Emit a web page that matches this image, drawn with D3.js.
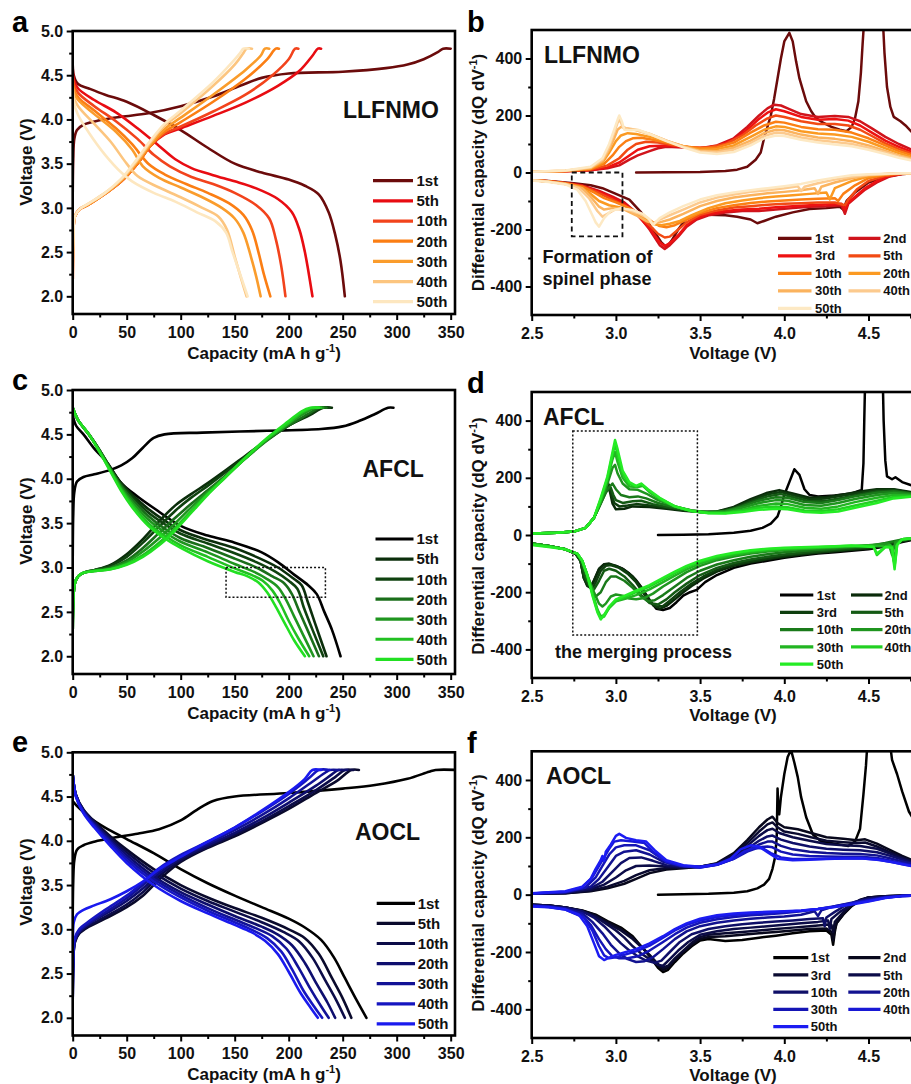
<!DOCTYPE html>
<html><head><meta charset="utf-8">
<script src="https://cdn.jsdelivr.net/npm/d3@7"></script>
<style>body{margin:0;background:#fff}svg{display:block}</style>
</head><body>
<script>
// ---------------- DATA ----------------
const cyclesLeft = ["1st","5th","10th","20th","30th","40th","50th"];
const cyclesRight = ["1st","2nd","3rd","5th","10th","20th","30th","40th","50th"];
const capTicks = [0,50,100,150,200,250,300,350];
const voltTicksLeft = [2.0,2.5,3.0,3.5,4.0,4.5,5.0];
const voltTicksRight = [2.5,3.0,3.5,4.0,4.5];
const dqTicks = [-400,-200,0,200,400];

const colorsA = ["#6b0b0b","#e80c12","#f2431c","#fb7e14","#fa9c2c","#fcc57f","#fde7c0"];
const colorsB = ["#6b0b0b","#d0141c","#ee1212","#f24a14","#fb7f14","#fb9a22","#fbb35e","#fcca8e","#fde9c4"];
const colorsC = ["#000000","#0b2e0b","#0f420f","#1a6e1a","#1f951f","#22c022","#22e022"];
const colorsD = ["#000000","#0a2a0a","#0e3e0e","#145a14","#1a7a1a","#1f951f","#22b522","#22d022","#25ec25"];
const colorsE = ["#000000","#0a0a2c","#0c0c48","#0e0e6e","#121296","#1616c0","#1a1aee"];
const colorsF = ["#000000","#08081c","#0a0a30","#0c0c48","#0f0f68","#121290","#1515b5","#1818d5","#1c1cf2"];

// Panel a: LLFNMO charge/discharge [capacity, voltage]
const chargeA = [
 [[0,3.1],[0.5,3.55],[1.5,3.78],[4,3.88],[10,3.94],[25,3.99],[45,4.03],[70,4.07],[100,4.15],[130,4.26],[155,4.38],[175,4.47],[200,4.52],[250,4.54],[290,4.58],[310,4.62],[325,4.68],[338,4.76],[343,4.8],[350,4.8]],
 [[0,2.0],[0.5,2.6],[2,2.9],[6,2.98],[15,3.04],[30,3.16],[45,3.3],[60,3.5],[72,3.7],[85,3.83],[100,3.9],[130,4.04],[160,4.19],[190,4.38],[210,4.55],[222,4.72],[227,4.8],[230,4.8]],
 [[0,2.0],[0.5,2.6],[2,2.9],[6,2.98],[15,3.04],[30,3.16],[45,3.3],[60,3.5],[72,3.7],[85,3.84],[100,3.92],[130,4.09],[160,4.28],[185,4.5],[200,4.68],[206,4.8],[209,4.8]],
 [[0,2.0],[0.5,2.6],[2,2.9],[6,2.98],[15,3.04],[30,3.16],[45,3.3],[60,3.5],[72,3.7],[85,3.86],[100,3.97],[130,4.2],[160,4.46],[180,4.68],[188,4.8],[191,4.8]],
 [[0,2.0],[0.5,2.6],[2,2.9],[6,2.98],[15,3.04],[30,3.16],[45,3.31],[60,3.52],[72,3.72],[85,3.89],[100,4.02],[130,4.28],[160,4.56],[174,4.72],[178,4.8],[182,4.8]],
 [[0,2.0],[0.5,2.6],[2,2.9],[6,2.98],[15,3.05],[30,3.17],[45,3.32],[60,3.54],[72,3.74],[85,3.93],[100,4.07],[130,4.38],[150,4.62],[158,4.75],[161,4.8],[166,4.8]],
 [[0,2.0],[0.5,2.6],[2,2.9],[6,2.98],[15,3.05],[30,3.17],[45,3.33],[60,3.56],[72,3.76],[85,3.95],[100,4.1],[130,4.42],[148,4.65],[155,4.75],[158,4.8],[163,4.8]]
];
const dischargeA = [
 [[0,4.72],[1,4.5],[5,4.4],[15,4.35],[30,4.28],[50,4.2],[75,4.05],[100,3.88],[125,3.68],[150,3.5],[175,3.4],[200,3.32],[215,3.25],[228,3.15],[237,2.95],[243,2.7],[248,2.4],[252,2.0]],
 [[0,4.62],[1,4.45],[5,4.35],[20,4.22],[40,4.08],[60,3.9],[80,3.7],[95,3.55],[110,3.45],[130,3.37],[150,3.3],[170,3.22],[190,3.1],[203,2.95],[210,2.75],[215,2.5],[218,2.3],[222,2.0]],
 [[0,4.58],[1,4.4],[5,4.3],[20,4.15],[40,3.98],[60,3.78],[75,3.6],[90,3.47],[110,3.35],[130,3.27],[150,3.17],[170,3.03],[182,2.88],[188,2.65],[193,2.35],[197,2.0]],
 [[0,4.55],[1,4.35],[5,4.25],[20,4.1],[40,3.9],[55,3.72],[70,3.5],[85,3.38],[105,3.27],[125,3.17],[145,3.05],[158,2.92],[166,2.75],[172,2.5],[177,2.25],[183,2.0]],
 [[0,4.52],[1,4.3],[5,4.22],[20,4.06],[40,3.86],[55,3.66],[65,3.47],[80,3.34],[100,3.23],[120,3.12],[138,3.0],[150,2.88],[158,2.72],[165,2.45],[170,2.22],[174,2.0]],
 [[0,4.5],[1,4.25],[5,4.15],[20,3.95],[35,3.75],[50,3.5],[60,3.36],[80,3.23],[100,3.12],[120,3.0],[135,2.9],[143,2.75],[150,2.45],[156,2.2],[161,2.0]],
 [[0,4.5],[1,4.2],[5,4.05],[15,3.85],[30,3.6],[45,3.4],[55,3.3],[75,3.17],[95,3.07],[115,2.95],[132,2.85],[142,2.72],[148,2.5],[155,2.25],[162,2.0]]
];

// Panel c: AFCL
const chargeC = [
 [[0,3.0],[0.5,3.6],[1.5,3.85],[4,3.97],[10,4.02],[20,4.05],[35,4.1],[45,4.15],[55,4.23],[65,4.35],[75,4.46],[85,4.5],[120,4.52],[180,4.54],[230,4.56],[250,4.59],[265,4.65],[280,4.73],[292,4.8],[297,4.8]],
 [[0,2.05],[0.5,2.6],[2,2.82],[5,2.9],[10,2.94],[20,2.97],[35,3.03],[50,3.15],[65,3.32],[80,3.52],[95,3.7],[110,3.83],[125,3.95],[140,4.08],[160,4.26],[180,4.44],[200,4.6],[220,4.72],[232,4.8],[240,4.8]],
 [[0,2.05],[0.5,2.6],[2,2.82],[5,2.9],[10,2.94],[20,2.97],[35,3.02],[50,3.12],[65,3.28],[80,3.46],[95,3.64],[110,3.79],[125,3.92],[140,4.06],[160,4.25],[180,4.44],[200,4.6],[220,4.73],[230,4.8],[238,4.8]],
 [[0,2.05],[0.5,2.6],[2,2.82],[5,2.9],[10,2.94],[20,2.97],[35,3.0],[50,3.08],[65,3.22],[80,3.39],[95,3.56],[110,3.72],[125,3.87],[140,4.02],[160,4.23],[180,4.43],[200,4.6],[218,4.73],[228,4.8],[235,4.8]],
 [[0,2.05],[0.5,2.6],[2,2.82],[5,2.9],[10,2.94],[20,2.96],[35,2.99],[50,3.06],[65,3.18],[80,3.33],[95,3.5],[110,3.68],[125,3.85],[140,4.01],[160,4.23],[180,4.44],[200,4.62],[215,4.74],[225,4.8],[232,4.8]],
 [[0,2.05],[0.5,2.6],[2,2.82],[5,2.9],[10,2.94],[20,2.96],[35,2.98],[50,3.04],[65,3.14],[80,3.28],[95,3.45],[110,3.64],[125,3.83],[140,4.0],[160,4.23],[180,4.45],[200,4.63],[213,4.75],[222,4.8],[230,4.8]],
 [[0,2.05],[0.5,2.6],[2,2.82],[5,2.9],[10,2.94],[20,2.96],[35,2.98],[50,3.03],[65,3.12],[80,3.25],[95,3.42],[110,3.62],[125,3.82],[140,4.0],[160,4.24],[180,4.46],[200,4.65],[212,4.76],[220,4.8],[228,4.8]]
];
const dischargeC = [
 [[0,4.72],[3,4.6],[10,4.5],[20,4.34],[32,4.18],[45,3.95],[60,3.8],[75,3.67],[100,3.47],[125,3.36],[150,3.28],[175,3.17],[190,3.06],[205,2.92],[218,2.8],[226,2.7],[233,2.5],[240,2.3],[248,2.0]],
 [[0,4.8],[5,4.66],[15,4.5],[25,4.32],[35,4.12],[45,3.95],[55,3.82],[70,3.66],[85,3.53],[100,3.42],[125,3.31],[150,3.22],[170,3.12],[190,3.0],[205,2.87],[212,2.8],[218,2.6],[225,2.35],[235,2.0]],
 [[0,4.8],[5,4.66],[15,4.5],[25,4.32],[35,4.12],[45,3.94],[55,3.8],[70,3.62],[85,3.49],[100,3.38],[125,3.27],[150,3.16],[170,3.06],[188,2.95],[200,2.85],[208,2.76],[214,2.55],[222,2.3],[232,2.0]],
 [[0,4.8],[5,4.66],[15,4.5],[25,4.32],[35,4.11],[45,3.92],[55,3.77],[70,3.58],[85,3.44],[100,3.33],[125,3.22],[150,3.1],[170,3.0],[185,2.9],[196,2.82],[203,2.7],[210,2.5],[218,2.28],[228,2.0]],
 [[0,4.8],[5,4.66],[15,4.5],[25,4.31],[35,4.1],[45,3.9],[55,3.74],[70,3.54],[85,3.4],[100,3.29],[125,3.17],[150,3.04],[168,2.95],[180,2.87],[190,2.78],[197,2.65],[205,2.45],[213,2.25],[223,2.0]],
 [[0,4.8],[5,4.66],[15,4.5],[25,4.3],[35,4.09],[45,3.88],[55,3.71],[70,3.5],[85,3.36],[100,3.25],[125,3.12],[150,2.99],[165,2.92],[176,2.85],[185,2.74],[192,2.6],[200,2.4],[209,2.2],[219,2.0]],
 [[0,4.8],[5,4.66],[15,4.5],[25,4.3],[35,4.08],[45,3.86],[55,3.68],[70,3.47],[85,3.33],[100,3.22],[125,3.07],[150,2.95],[162,2.9],[172,2.83],[180,2.72],[188,2.56],[196,2.38],[205,2.18],[215,2.0]]
];

// Panel e: AOCL
const chargeE = [
 [[0,3.1],[0.5,3.55],[1.5,3.78],[4,3.9],[10,3.95],[20,3.99],[40,4.04],[60,4.08],[80,4.13],[100,4.23],[115,4.35],[130,4.45],[150,4.5],[200,4.54],[250,4.59],[280,4.63],[310,4.7],[330,4.78],[336,4.8],[357,4.8]],
 [[0,2.0],[0.5,2.6],[2,2.85],[6,2.95],[15,3.03],[30,3.12],[50,3.25],[65,3.38],[80,3.56],[100,3.76],[125,3.92],[150,4.05],[175,4.2],[200,4.36],[225,4.54],[245,4.68],[258,4.8],[265,4.8]],
 [[0,2.0],[0.5,2.6],[2,2.86],[6,2.96],[15,3.04],[30,3.14],[50,3.28],[65,3.42],[80,3.6],[100,3.78],[125,3.93],[150,4.07],[175,4.22],[200,4.39],[225,4.57],[243,4.72],[252,4.8],[260,4.8]],
 [[0,2.0],[0.5,2.6],[2,2.87],[6,2.97],[15,3.06],[30,3.17],[50,3.32],[65,3.46],[80,3.63],[100,3.8],[125,3.95],[150,4.09],[175,4.25],[200,4.43],[225,4.62],[240,4.75],[246,4.8],[254,4.8]],
 [[0,2.0],[0.5,2.6],[2,2.88],[6,2.98],[15,3.07],[30,3.19],[50,3.35],[65,3.5],[80,3.66],[100,3.82],[125,3.97],[150,4.12],[175,4.29],[200,4.48],[220,4.65],[235,4.78],[238,4.8],[247,4.8]],
 [[0,2.0],[0.5,2.6],[2,2.9],[6,3.0],[15,3.09],[30,3.22],[50,3.38],[65,3.53],[80,3.69],[100,3.84],[125,3.99],[150,4.15],[175,4.33],[200,4.53],[218,4.7],[228,4.8],[238,4.8]],
 [[0,2.05],[0.3,2.9],[1,3.08],[4,3.17],[10,3.22],[20,3.27],[35,3.34],[50,3.43],[65,3.54],[80,3.68],[100,3.82],[125,3.99],[150,4.15],[175,4.34],[200,4.55],[215,4.7],[222,4.8],[230,4.8]]
];
const dischargeE = [
 [[0,4.45],[5,4.38],[15,4.27],[30,4.15],[50,4.02],[75,3.86],[100,3.68],[125,3.52],[150,3.38],[175,3.25],[200,3.12],[215,3.02],[230,2.88],[242,2.68],[252,2.45],[262,2.22],[272,2.0]],
 [[0,4.75],[3,4.52],[10,4.35],[20,4.22],[35,4.05],[50,3.9],[75,3.68],[100,3.5],[125,3.36],[150,3.24],[175,3.13],[200,3.0],[215,2.9],[228,2.72],[240,2.45],[250,2.22],[258,2.0]],
 [[0,4.75],[3,4.52],[10,4.35],[20,4.21],[35,4.03],[50,3.87],[75,3.64],[100,3.46],[125,3.32],[150,3.2],[175,3.08],[195,2.97],[210,2.86],[222,2.68],[234,2.42],[244,2.2],[252,2.0]],
 [[0,4.75],[3,4.52],[10,4.34],[20,4.2],[35,4.01],[50,3.84],[75,3.6],[100,3.42],[125,3.28],[150,3.15],[175,3.03],[190,2.94],[203,2.82],[215,2.62],[226,2.38],[236,2.17],[243,2.0]],
 [[0,4.75],[3,4.51],[10,4.33],[20,4.18],[35,3.99],[50,3.81],[75,3.57],[100,3.39],[125,3.24],[150,3.11],[170,3.01],[185,2.92],[198,2.78],[209,2.57],[220,2.33],[230,2.13],[237,2.0]],
 [[0,4.75],[3,4.5],[10,4.32],[20,4.17],[35,3.97],[50,3.78],[75,3.54],[100,3.36],[125,3.21],[150,3.08],[165,3.0],[180,2.9],[193,2.75],[203,2.55],[214,2.3],[224,2.12],[231,2.0]],
 [[0,4.75],[3,4.5],[10,4.31],[20,4.15],[35,3.94],[50,3.75],[75,3.5],[100,3.32],[125,3.18],[150,3.05],[165,2.97],[178,2.87],[190,2.72],[200,2.52],[211,2.28],[220,2.12],[227,2.0]]
];

// Panel b: LLFNMO dQ/dV [voltage, dQ/dV]
const posB = [
 [[3.12,0],[3.3,1],[3.5,2],[3.65,5],[3.72,10],[3.78,20],[3.83,45],[3.86,70],[3.88,120],[3.9,160],[3.92,200],[3.94,260],[3.96,330],[3.98,400],[4.0,460],[4.03,490],[4.05,460],[4.07,390],[4.09,330],[4.11,290],[4.13,250],[4.16,215],[4.19,190],[4.23,175],[4.28,160],[4.33,150],[4.37,145],[4.4,160],[4.42,190],[4.44,250],[4.455,350],[4.465,450],[4.475,540],[4.585,540],[4.595,420],[4.61,300],[4.63,230],[4.65,195],[4.69,180],[4.72,165],[4.76,140],[4.8,110]],
 [[2.5,3],[2.7,4],[2.85,8],[2.95,15],[3.02,25],[3.08,45],[3.13,60],[3.2,75],[3.25,85],[3.3,90],[3.4,88],[3.5,85],[3.6,95],[3.7,120],[3.78,160],[3.85,200],[3.9,225],[3.94,238],[3.98,235],[4.02,225],[4.1,205],[4.2,195],[4.3,198],[4.38,195],[4.45,180],[4.52,155],[4.6,125],[4.68,100],[4.75,82],[4.8,70]],
 [[2.5,3],[2.7,4],[2.85,8],[2.95,18],[3.02,35],[3.08,60],[3.13,80],[3.2,92],[3.3,95],[3.4,90],[3.5,85],[3.6,92],[3.7,115],[3.78,150],[3.85,188],[3.9,210],[3.95,222],[4.0,215],[4.1,195],[4.2,185],[4.3,188],[4.38,182],[4.45,165],[4.52,140],[4.6,112],[4.68,90],[4.75,74],[4.8,62]],
 [[2.5,3],[2.7,5],[2.85,10],[2.95,25],[3.02,50],[3.07,80],[3.12,100],[3.18,108],[3.25,105],[3.35,95],[3.45,88],[3.55,88],[3.65,100],[3.75,130],[3.83,165],[3.9,190],[3.95,200],[4.0,195],[4.1,180],[4.2,170],[4.3,170],[4.38,165],[4.45,150],[4.52,128],[4.6,102],[4.68,82],[4.75,68],[4.8,58]],
 [[2.5,3],[2.7,5],[2.85,12],[2.93,30],[2.98,60],[3.02,90],[3.06,110],[3.1,120],[3.15,122],[3.22,115],[3.3,105],[3.4,92],[3.5,85],[3.6,88],[3.7,105],[3.8,140],[3.88,165],[3.95,178],[4.0,175],[4.1,160],[4.2,152],[4.3,150],[4.4,140],[4.5,120],[4.6,95],[4.68,75],[4.75,62],[4.8,52]],
 [[2.5,3],[2.7,5],[2.85,14],[2.92,35],[2.96,70],[3.0,110],[3.03,130],[3.07,138],[3.12,135],[3.2,125],[3.3,110],[3.4,92],[3.5,80],[3.6,82],[3.7,95],[3.8,125],[3.88,150],[3.95,162],[4.0,160],[4.1,145],[4.2,137],[4.3,133],[4.4,125],[4.5,108],[4.6,85],[4.68,68],[4.75,55],[4.8,47]],
 [[2.5,3],[2.7,6],[2.85,16],[2.92,40],[2.96,80],[2.99,120],[3.01,150],[3.03,160],[3.06,155],[3.1,152],[3.2,135],[3.3,112],[3.4,92],[3.5,76],[3.6,75],[3.7,87],[3.8,112],[3.88,138],[3.95,150],[4.0,148],[4.1,133],[4.2,123],[4.3,118],[4.4,110],[4.5,95],[4.6,76],[4.68,60],[4.75,50],[4.8,43]],
 [[2.5,3],[2.7,6],[2.85,18],[2.92,45],[2.96,90],[2.99,140],[3.01,175],[3.025,185],[3.04,160],[3.07,152],[3.12,150],[3.2,135],[3.3,112],[3.4,90],[3.5,74],[3.6,70],[3.7,80],[3.8,103],[3.88,128],[3.95,140],[4.0,138],[4.1,123],[4.2,113],[4.3,107],[4.4,100],[4.5,87],[4.6,70],[4.68,56],[4.75,46],[4.8,40]],
 [[2.5,3],[2.7,7],[2.85,20],[2.92,50],[2.96,100],[2.99,150],[3.01,185],[3.02,200],[3.035,180],[3.05,150],[3.08,148],[3.13,150],[3.2,135],[3.3,110],[3.4,88],[3.5,70],[3.6,65],[3.7,72],[3.8,95],[3.88,120],[3.95,130],[4.0,128],[4.1,115],[4.2,105],[4.3,98],[4.4,92],[4.5,80],[4.6,65],[4.68,52],[4.75,43],[4.8,37]]
];
const negB = [
 [[4.8,-2],[4.7,-5],[4.6,-15],[4.5,-35],[4.42,-70],[4.37,-100],[4.35,-130],[4.33,-120],[4.25,-125],[4.15,-128],[4.05,-140],[3.95,-155],[3.88,-170],[3.84,-178],[3.8,-165],[3.72,-155],[3.65,-150],[3.55,-148],[3.48,-148],[3.42,-160],[3.37,-200],[3.33,-240],[3.3,-262],[3.27,-245],[3.22,-200],[3.15,-140],[3.08,-95],[3.0,-75],[2.92,-55],[2.85,-45],[2.75,-38],[2.6,-30],[2.5,-27]],
 [[4.8,-2],[4.7,-5],[4.62,-15],[4.55,-35],[4.48,-60],[4.42,-90],[4.38,-110],[4.36,-145],[4.34,-115],[4.25,-118],[4.15,-120],[4.05,-125],[3.95,-130],[3.85,-135],[3.75,-135],[3.65,-140],[3.55,-150],[3.48,-165],[3.42,-190],[3.37,-225],[3.32,-255],[3.29,-268],[3.26,-255],[3.2,-200],[3.12,-140],[3.05,-105],[2.98,-85],[2.9,-65],[2.8,-45],[2.7,-37],[2.6,-31],[2.5,-27]],
 [[4.8,-2],[4.7,-4],[4.62,-12],[4.55,-30],[4.48,-55],[4.42,-85],[4.38,-105],[4.36,-130],[4.34,-110],[4.25,-112],[4.15,-115],[4.05,-118],[3.95,-122],[3.85,-127],[3.75,-130],[3.65,-135],[3.55,-145],[3.48,-160],[3.42,-185],[3.37,-220],[3.32,-248],[3.29,-258],[3.26,-245],[3.2,-195],[3.12,-145],[3.05,-110],[2.98,-88],[2.9,-68],[2.8,-47],[2.7,-38],[2.6,-31],[2.5,-27]],
 [[4.8,-2],[4.7,-4],[4.6,-12],[4.5,-30],[4.43,-60],[4.38,-95],[4.36,-115],[4.3,-105],[4.2,-105],[4.1,-108],[4.0,-110],[3.9,-113],[3.8,-118],[3.7,-123],[3.6,-133],[3.5,-148],[3.42,-175],[3.36,-205],[3.32,-225],[3.29,-228],[3.25,-215],[3.2,-185],[3.12,-145],[3.05,-115],[2.98,-95],[2.9,-72],[2.8,-48],[2.7,-38],[2.6,-31],[2.5,-27]],
 [[4.8,-2],[4.7,-3],[4.6,-8],[4.5,-20],[4.42,-45],[4.35,-75],[4.32,-100],[4.3,-90],[4.2,-92],[4.1,-95],[4.0,-98],[3.9,-102],[3.8,-107],[3.7,-115],[3.6,-125],[3.5,-142],[3.42,-165],[3.35,-185],[3.3,-192],[3.26,-188],[3.22,-175],[3.16,-150],[3.08,-125],[3.0,-105],[2.93,-90],[2.87,-70],[2.8,-50],[2.7,-38],[2.6,-31],[2.5,-27]],
 [[4.8,-2],[4.7,-3],[4.6,-6],[4.5,-14],[4.4,-30],[4.3,-55],[4.27,-95],[4.25,-70],[4.15,-75],[4.05,-80],[3.95,-84],[3.85,-90],[3.75,-98],[3.65,-108],[3.55,-125],[3.45,-150],[3.38,-170],[3.32,-180],[3.27,-185],[3.23,-182],[3.18,-165],[3.1,-140],[3.02,-122],[2.96,-115],[2.9,-100],[2.84,-70],[2.78,-50],[2.7,-40],[2.6,-32],[2.5,-27]],
 [[4.8,-2],[4.7,-3],[4.6,-5],[4.5,-10],[4.4,-20],[4.3,-35],[4.22,-50],[4.2,-75],[4.18,-55],[4.1,-62],[4.0,-68],[3.9,-73],[3.8,-80],[3.7,-88],[3.6,-100],[3.5,-118],[3.4,-145],[3.32,-165],[3.26,-175],[3.22,-178],[3.18,-170],[3.12,-150],[3.05,-130],[2.98,-125],[2.93,-130],[2.9,-120],[2.85,-85],[2.8,-55],[2.7,-40],[2.6,-32],[2.5,-27]],
 [[4.8,-2],[4.7,-3],[4.6,-5],[4.5,-8],[4.4,-15],[4.3,-25],[4.2,-38],[4.12,-50],[4.1,-65],[4.08,-48],[4.0,-55],[3.9,-62],[3.8,-68],[3.7,-77],[3.6,-88],[3.5,-105],[3.4,-130],[3.32,-150],[3.26,-165],[3.22,-180],[3.19,-160],[3.14,-145],[3.07,-130],[3.0,-128],[2.95,-145],[2.92,-155],[2.89,-135],[2.84,-90],[2.78,-55],[2.7,-40],[2.6,-32],[2.5,-27]],
 [[4.8,-2],[4.7,-3],[4.6,-4],[4.5,-6],[4.4,-10],[4.3,-18],[4.2,-28],[4.1,-40],[4.0,-48],[3.9,-55],[3.8,-62],[3.7,-70],[3.6,-80],[3.5,-95],[3.4,-118],[3.32,-140],[3.26,-160],[3.22,-185],[3.2,-165],[3.16,-145],[3.1,-132],[3.03,-125],[2.97,-135],[2.93,-160],[2.9,-190],[2.88,-175],[2.86,-150],[2.82,-100],[2.77,-60],[2.7,-42],[2.6,-33],[2.5,-28]]
];

// Panel d: AFCL dQ/dV
const posD = [
 [[3.25,0],[3.4,1],[3.55,3],[3.7,8],[3.8,15],[3.87,25],[3.92,40],[3.96,65],[3.98,100],[4.0,140],[4.03,185],[4.06,230],[4.09,210],[4.12,160],[4.15,140],[4.2,135],[4.3,138],[4.4,145],[4.46,158],[4.47,250],[4.475,400],[4.48,540],[4.585,540],[4.59,400],[4.6,260],[4.61,205],[4.64,195],[4.66,202],[4.7,185],[4.75,175],[4.8,165]],
 [[2.5,5],[2.65,8],[2.75,12],[2.82,25],[2.87,60],[2.91,120],[2.94,170],[2.95,190],[2.965,150],[2.98,110],[3.0,90],[3.05,92],[3.1,100],[3.2,98],[3.3,92],[3.4,85],[3.5,80],[3.6,82],[3.7,98],[3.8,125],[3.9,148],[3.97,157],[4.05,145],[4.15,130],[4.25,133],[4.35,142],[4.45,152],[4.55,160],[4.65,160],[4.75,150],[4.8,145]],
 [[2.5,5],[2.65,8],[2.75,12],[2.82,25],[2.87,60],[2.91,115],[2.94,160],[2.96,175],[2.975,140],[2.99,112],[3.02,100],[3.07,103],[3.12,108],[3.2,103],[3.3,95],[3.4,87],[3.5,80],[3.6,81],[3.7,95],[3.8,120],[3.9,142],[3.98,150],[4.05,140],[4.15,125],[4.25,128],[4.35,138],[4.45,148],[4.55,157],[4.65,158],[4.75,148],[4.8,143]],
 [[2.5,5],[2.65,8],[2.75,12],[2.82,25],[2.87,60],[2.91,110],[2.94,150],[2.97,165],[2.985,140],[3.0,122],[3.04,112],[3.1,118],[3.15,120],[3.22,108],[3.3,98],[3.4,88],[3.5,80],[3.6,80],[3.7,92],[3.8,115],[3.9,135],[3.98,143],[4.05,133],[4.15,118],[4.25,120],[4.35,130],[4.45,142],[4.55,152],[4.65,155],[4.75,146],[4.8,141]],
 [[2.5,5],[2.65,8],[2.75,12],[2.82,25],[2.87,60],[2.91,110],[2.95,160],[2.98,180],[3.0,160],[3.03,140],[3.08,132],[3.13,135],[3.18,128],[3.25,112],[3.35,97],[3.45,86],[3.55,80],[3.65,84],[3.75,100],[3.85,120],[3.95,132],[4.02,130],[4.12,115],[4.22,112],[4.32,122],[4.42,135],[4.55,148],[4.65,152],[4.75,145],[4.8,140]],
 [[2.5,5],[2.65,8],[2.75,12],[2.82,25],[2.87,60],[2.91,115],[2.95,180],[2.98,235],[2.995,245],[3.01,215],[3.04,180],[3.08,160],[3.13,158],[3.18,145],[3.25,122],[3.35,100],[3.45,86],[3.55,79],[3.65,82],[3.75,95],[3.85,112],[3.95,122],[4.02,120],[4.12,105],[4.22,102],[4.32,112],[4.42,126],[4.55,140],[4.65,147],[4.75,142],[4.8,138]],
 [[2.5,5],[2.65,8],[2.75,12],[2.82,25],[2.87,60],[2.91,120],[2.95,195],[2.98,265],[2.995,290],[3.01,255],[3.04,200],[3.08,170],[3.13,168],[3.16,172],[3.2,150],[3.27,122],[3.35,100],[3.45,85],[3.55,78],[3.65,79],[3.75,88],[3.85,102],[3.95,110],[4.02,108],[4.12,95],[4.22,92],[4.32,100],[4.42,115],[4.55,130],[4.65,140],[4.75,138],[4.8,135]],
 [[2.5,5],[2.65,8],[2.75,12],[2.82,25],[2.87,60],[2.91,125],[2.95,200],[2.98,280],[2.995,320],[3.01,280],[3.04,215],[3.08,178],[3.12,170],[3.15,178],[3.19,158],[3.26,128],[3.35,100],[3.45,84],[3.55,77],[3.65,77],[3.75,84],[3.85,95],[3.95,100],[4.02,97],[4.12,86],[4.22,84],[4.32,90],[4.42,103],[4.55,120],[4.65,133],[4.75,135],[4.8,133]],
 [[2.5,5],[2.65,8],[2.75,12],[2.82,25],[2.87,60],[2.91,130],[2.95,205],[2.98,290],[2.995,332],[3.01,300],[3.04,225],[3.08,185],[3.12,172],[3.15,180],[3.19,160],[3.26,130],[3.35,100],[3.45,84],[3.55,76],[3.65,75],[3.75,80],[3.85,88],[3.95,92],[4.02,90],[4.12,80],[4.22,78],[4.32,82],[4.42,95],[4.55,112],[4.65,128],[4.75,134],[4.8,132]]
];
const negD = [
 [[4.8,-12],[4.7,-25],[4.6,-40],[4.5,-50],[4.4,-55],[4.3,-60],[4.2,-65],[4.1,-72],[4.0,-80],[3.9,-90],[3.8,-100],[3.7,-115],[3.6,-140],[3.53,-165],[3.48,-192],[3.44,-200],[3.4,-212],[3.36,-235],[3.32,-255],[3.28,-262],[3.24,-258],[3.2,-228],[3.16,-190],[3.12,-158],[3.08,-135],[3.04,-118],[3.0,-108],[2.96,-103],[2.93,-103],[2.9,-120],[2.87,-160],[2.85,-182],[2.83,-175],[2.81,-150],[2.79,-90],[2.76,-65],[2.7,-50],[2.6,-38],[2.5,-30]],
 [[4.8,-10],[4.7,-22],[4.6,-38],[4.5,-47],[4.4,-52],[4.3,-57],[4.2,-62],[4.1,-68],[4.0,-76],[3.9,-85],[3.8,-95],[3.7,-108],[3.6,-128],[3.52,-152],[3.45,-178],[3.4,-200],[3.35,-225],[3.3,-248],[3.26,-258],[3.22,-245],[3.18,-210],[3.14,-175],[3.1,-145],[3.05,-122],[3.0,-108],[2.96,-100],[2.93,-102],[2.9,-118],[2.87,-158],[2.85,-185],[2.83,-178],[2.81,-150],[2.79,-90],[2.76,-65],[2.7,-50],[2.6,-38],[2.5,-30]],
 [[4.8,-10],[4.7,-20],[4.6,-35],[4.5,-45],[4.4,-50],[4.3,-55],[4.2,-60],[4.1,-66],[4.0,-73],[3.9,-82],[3.8,-92],[3.7,-104],[3.6,-122],[3.52,-145],[3.45,-170],[3.38,-200],[3.32,-230],[3.28,-248],[3.24,-250],[3.2,-235],[3.16,-200],[3.12,-165],[3.07,-135],[3.02,-115],[2.97,-105],[2.94,-108],[2.91,-125],[2.88,-165],[2.86,-188],[2.84,-180],[2.81,-150],[2.79,-90],[2.76,-65],[2.7,-50],[2.6,-38],[2.5,-30]],
 [[4.8,-10],[4.7,-18],[4.6,-32],[4.5,-42],[4.4,-47],[4.3,-52],[4.2,-57],[4.1,-62],[4.0,-68],[3.9,-76],[3.8,-86],[3.7,-98],[3.6,-115],[3.5,-140],[3.42,-170],[3.35,-200],[3.3,-225],[3.25,-243],[3.2,-238],[3.15,-210],[3.1,-175],[3.05,-145],[3.0,-125],[2.96,-118],[2.93,-125],[2.9,-160],[2.87,-190],[2.85,-185],[2.82,-150],[2.79,-90],[2.76,-65],[2.7,-50],[2.6,-38],[2.5,-30]],
 [[4.8,-10],[4.7,-16],[4.6,-28],[4.5,-38],[4.4,-43],[4.3,-48],[4.2,-52],[4.1,-56],[4.0,-60],[3.9,-67],[3.8,-76],[3.7,-88],[3.6,-103],[3.5,-125],[3.42,-150],[3.35,-180],[3.28,-210],[3.23,-228],[3.19,-232],[3.15,-215],[3.1,-185],[3.05,-160],[3.0,-145],[2.97,-145],[2.94,-165],[2.91,-200],[2.88,-215],[2.86,-200],[2.83,-150],[2.8,-95],[2.77,-65],[2.7,-50],[2.6,-38],[2.5,-30]],
 [[4.8,-10],[4.7,-15],[4.66,-25],[4.64,-70],[4.62,-30],[4.5,-36],[4.4,-40],[4.3,-44],[4.2,-47],[4.1,-50],[4.0,-53],[3.9,-58],[3.8,-65],[3.7,-75],[3.6,-88],[3.5,-108],[3.42,-130],[3.35,-155],[3.28,-180],[3.22,-205],[3.17,-220],[3.12,-225],[3.08,-222],[3.04,-212],[3.0,-208],[2.97,-215],[2.94,-240],[2.92,-250],[2.9,-240],[2.87,-200],[2.83,-140],[2.8,-90],[2.77,-65],[2.7,-50],[2.6,-38],[2.5,-30]],
 [[4.8,-10],[4.7,-15],[4.67,-30],[4.65,-90],[4.63,-35],[4.6,-40],[4.5,-36],[4.4,-39],[4.3,-42],[4.2,-45],[4.1,-47],[4.0,-50],[3.9,-54],[3.8,-60],[3.7,-70],[3.6,-82],[3.5,-100],[3.42,-120],[3.35,-142],[3.28,-165],[3.2,-190],[3.12,-210],[3.06,-222],[3.0,-232],[2.96,-255],[2.93,-280],[2.91,-285],[2.89,-260],[2.86,-200],[2.83,-140],[2.8,-90],[2.77,-65],[2.7,-50],[2.6,-38],[2.5,-30]],
 [[4.8,-10],[4.7,-15],[4.67,-35],[4.655,-110],[4.64,-40],[4.6,-42],[4.55,-70],[4.53,-40],[4.4,-38],[4.3,-40],[4.2,-43],[4.1,-45],[4.0,-47],[3.9,-50],[3.8,-56],[3.7,-65],[3.6,-77],[3.5,-94],[3.42,-112],[3.35,-133],[3.28,-155],[3.2,-180],[3.12,-200],[3.06,-215],[3.0,-230],[2.96,-255],[2.93,-285],[2.91,-290],[2.89,-265],[2.86,-205],[2.83,-140],[2.8,-90],[2.77,-65],[2.7,-50],[2.6,-40],[2.5,-33]],
 [[4.8,-10],[4.7,-15],[4.67,-35],[4.655,-120],[4.64,-45],[4.6,-42],[4.55,-65],[4.53,-42],[4.4,-37],[4.3,-39],[4.2,-41],[4.1,-43],[4.0,-45],[3.9,-48],[3.8,-53],[3.7,-62],[3.6,-73],[3.5,-90],[3.42,-108],[3.35,-128],[3.28,-150],[3.2,-175],[3.12,-195],[3.06,-210],[3.0,-225],[2.96,-250],[2.93,-280],[2.91,-295],[2.89,-270],[2.86,-210],[2.83,-140],[2.8,-90],[2.77,-65],[2.7,-50],[2.6,-42],[2.5,-35]]
];

// Panel f: AOCL dQ/dV
const posF = [
 [[3.25,0],[3.4,1],[3.55,3],[3.7,7],[3.78,12],[3.84,22],[3.88,35],[3.91,55],[3.93,90],[3.945,130],[3.955,200],[3.96,370],[3.965,300],[3.97,280],[3.98,340],[4.0,420],[4.02,480],[4.04,505],[4.06,460],[4.08,410],[4.1,340],[4.13,270],[4.17,210],[4.22,185],[4.3,178],[4.38,170],[4.42,185],[4.45,230],[4.47,350],[4.485,450],[4.495,540],[4.625,540],[4.64,470],[4.67,420],[4.7,360],[4.74,290],[4.76,270],[4.8,240]],
 [[2.5,3],[2.7,5],[2.85,12],[2.95,22],[3.05,38],[3.12,55],[3.2,75],[3.3,88],[3.4,92],[3.5,97],[3.6,110],[3.7,145],[3.78,190],[3.85,235],[3.9,262],[3.93,272],[3.96,250],[4.0,235],[4.08,228],[4.16,215],[4.25,200],[4.35,195],[4.43,190],[4.48,193],[4.55,178],[4.62,158],[4.7,135],[4.78,115],[4.8,110]],
 [[2.5,3],[2.7,5],[2.85,14],[2.95,28],[3.05,48],[3.12,68],[3.2,85],[3.3,93],[3.4,95],[3.5,97],[3.6,108],[3.7,140],[3.78,180],[3.85,220],[3.9,245],[3.93,252],[3.96,235],[4.0,220],[4.08,212],[4.16,200],[4.25,188],[4.35,183],[4.43,180],[4.48,182],[4.55,168],[4.62,150],[4.7,130],[4.78,112],[4.8,108]],
 [[2.5,3],[2.7,6],[2.85,18],[2.93,35],[3.0,60],[3.06,85],[3.12,100],[3.2,102],[3.3,98],[3.4,95],[3.5,97],[3.6,107],[3.7,135],[3.78,170],[3.85,205],[3.9,225],[3.93,230],[3.97,215],[4.05,200],[4.15,188],[4.25,177],[4.35,172],[4.45,170],[4.55,160],[4.62,145],[4.7,127],[4.78,110],[4.8,106]],
 [[2.5,3],[2.7,7],[2.85,22],[2.92,45],[2.98,80],[3.03,110],[3.08,128],[3.15,130],[3.22,118],[3.3,103],[3.4,97],[3.5,97],[3.6,106],[3.7,130],[3.78,160],[3.85,188],[3.9,203],[3.93,206],[3.98,192],[4.05,180],[4.15,168],[4.25,160],[4.35,157],[4.45,155],[4.55,148],[4.62,137],[4.7,122],[4.78,107],[4.8,104]],
 [[2.5,4],[2.7,8],[2.85,28],[2.9,55],[2.95,95],[3.0,135],[3.05,150],[3.12,155],[3.2,140],[3.28,115],[3.38,100],[3.5,96],[3.6,105],[3.7,127],[3.78,153],[3.85,175],[3.9,185],[3.93,185],[3.98,170],[4.05,158],[4.15,150],[4.25,145],[4.35,143],[4.45,142],[4.55,137],[4.62,128],[4.7,116],[4.78,104],[4.8,101]],
 [[2.5,4],[2.7,9],[2.82,25],[2.88,60],[2.92,100],[2.96,140],[3.0,165],[3.05,172],[3.12,172],[3.2,155],[3.28,122],[3.38,102],[3.5,95],[3.6,104],[3.7,125],[3.78,150],[3.85,165],[3.9,168],[3.93,165],[3.98,150],[4.05,140],[4.15,135],[4.25,133],[4.35,132],[4.45,132],[4.55,128],[4.62,120],[4.7,110],[4.78,100],[4.8,98]],
 [[2.5,4],[2.7,10],[2.8,25],[2.86,60],[2.9,100],[2.93,130],[2.96,160],[2.99,185],[3.03,190],[3.1,185],[3.17,180],[3.22,150],[3.3,115],[3.4,100],[3.5,95],[3.6,104],[3.7,125],[3.76,150],[3.82,163],[3.87,162],[3.92,145],[3.98,130],[4.05,124],[4.15,124],[4.25,125],[4.35,126],[4.45,127],[4.55,123],[4.62,116],[4.7,107],[4.78,98],[4.8,96]],
 [[2.5,5],[2.7,12],[2.8,28],[2.85,55],[2.88,90],[2.91,120],[2.92,135],[2.93,118],[2.94,150],[2.97,175],[3.0,205],[3.02,212],[3.06,198],[3.12,190],[3.18,185],[3.23,155],[3.3,120],[3.4,103],[3.5,97],[3.6,105],[3.68,125],[3.74,158],[3.8,172],[3.85,168],[3.9,148],[3.96,125],[4.05,120],[4.15,122],[4.25,124],[4.35,126],[4.45,127],[4.55,122],[4.62,116],[4.7,106],[4.78,97],[4.8,95]]
];
const negF = [
 [[4.8,-2],[4.7,-4],[4.6,-6],[4.5,-10],[4.45,-20],[4.4,-40],[4.35,-70],[4.31,-100],[4.3,-130],[4.29,-175],[4.28,-140],[4.25,-125],[4.15,-128],[4.05,-135],[3.95,-143],[3.85,-150],[3.75,-158],[3.65,-162],[3.55,-155],[3.5,-160],[3.45,-180],[3.4,-205],[3.35,-235],[3.31,-262],[3.28,-270],[3.25,-255],[3.2,-215],[3.15,-180],[3.1,-145],[3.03,-115],[2.95,-92],[2.88,-70],[2.8,-55],[2.7,-45],[2.6,-38],[2.5,-35]],
 [[4.8,-2],[4.7,-4],[4.6,-6],[4.5,-10],[4.45,-20],[4.4,-38],[4.35,-68],[4.31,-100],[4.3,-120],[4.29,-160],[4.28,-130],[4.25,-118],[4.15,-120],[4.05,-125],[3.95,-130],[3.85,-135],[3.75,-140],[3.65,-145],[3.55,-148],[3.5,-155],[3.45,-175],[3.4,-200],[3.35,-228],[3.31,-255],[3.28,-262],[3.25,-248],[3.2,-212],[3.15,-180],[3.1,-150],[3.03,-120],[2.95,-95],[2.88,-72],[2.8,-56],[2.7,-45],[2.6,-38],[2.5,-35]],
 [[4.8,-2],[4.7,-4],[4.6,-6],[4.5,-10],[4.45,-18],[4.4,-35],[4.35,-62],[4.3,-95],[4.29,-130],[4.28,-105],[4.25,-105],[4.15,-110],[4.05,-115],[3.95,-120],[3.85,-125],[3.75,-130],[3.65,-135],[3.55,-140],[3.5,-148],[3.45,-168],[3.4,-195],[3.35,-222],[3.31,-248],[3.28,-255],[3.25,-242],[3.2,-210],[3.15,-182],[3.1,-155],[3.03,-125],[2.95,-100],[2.88,-75],[2.8,-57],[2.7,-45],[2.6,-38],[2.5,-35]],
 [[4.8,-2],[4.7,-4],[4.6,-6],[4.5,-12],[4.45,-20],[4.4,-35],[4.33,-60],[4.28,-85],[4.27,-120],[4.26,-90],[4.2,-95],[4.1,-100],[4.0,-105],[3.9,-110],[3.8,-115],[3.7,-120],[3.6,-128],[3.5,-140],[3.43,-165],[3.37,-195],[3.32,-225],[3.28,-248],[3.25,-245],[3.2,-225],[3.15,-205],[3.1,-180],[3.05,-150],[3.0,-125],[2.95,-105],[2.88,-78],[2.8,-58],[2.7,-45],[2.6,-38],[2.5,-35]],
 [[4.8,-2],[4.7,-4],[4.6,-7],[4.5,-14],[4.42,-25],[4.35,-42],[4.3,-60],[4.25,-80],[4.24,-110],[4.23,-82],[4.15,-85],[4.05,-90],[3.95,-94],[3.85,-98],[3.75,-103],[3.65,-110],[3.55,-120],[3.45,-138],[3.38,-165],[3.32,-200],[3.27,-230],[3.23,-238],[3.18,-230],[3.13,-215],[3.08,-195],[3.03,-170],[2.98,-140],[2.93,-110],[2.87,-80],[2.8,-58],[2.7,-46],[2.6,-40],[2.5,-37]],
 [[4.8,-2],[4.7,-5],[4.6,-9],[4.5,-18],[4.4,-28],[4.3,-40],[4.22,-55],[4.2,-75],[4.18,-58],[4.1,-70],[4.0,-76],[3.9,-80],[3.8,-84],[3.7,-90],[3.6,-98],[3.5,-110],[3.42,-128],[3.35,-155],[3.28,-190],[3.22,-218],[3.17,-232],[3.12,-235],[3.07,-225],[3.02,-205],[2.97,-175],[2.92,-135],[2.86,-95],[2.8,-65],[2.7,-48],[2.6,-41],[2.5,-38]],
 [[4.8,-2],[4.7,-5],[4.6,-10],[4.5,-20],[4.4,-30],[4.3,-40],[4.2,-50],[4.1,-58],[4.0,-64],[3.9,-68],[3.8,-72],[3.7,-78],[3.6,-86],[3.5,-98],[3.42,-115],[3.35,-138],[3.28,-165],[3.2,-195],[3.13,-215],[3.07,-222],[3.02,-222],[2.98,-215],[2.94,-190],[2.9,-155],[2.85,-105],[2.8,-72],[2.7,-50],[2.6,-42],[2.5,-39]],
 [[4.8,-2],[4.7,-5],[4.6,-11],[4.5,-22],[4.4,-32],[4.3,-42],[4.2,-50],[4.1,-56],[4.0,-60],[3.9,-63],[3.8,-66],[3.7,-71],[3.6,-78],[3.5,-90],[3.42,-105],[3.35,-125],[3.28,-150],[3.2,-178],[3.12,-198],[3.05,-210],[3.0,-218],[2.96,-222],[2.93,-212],[2.9,-180],[2.86,-125],[2.81,-80],[2.7,-52],[2.6,-43],[2.5,-40]],
 [[4.8,-2],[4.7,-5],[4.6,-12],[4.5,-24],[4.4,-34],[4.3,-43],[4.2,-50],[4.1,-55],[4.0,-58],[3.9,-60],[3.8,-62],[3.7,-66],[3.6,-72],[3.5,-84],[3.42,-100],[3.35,-120],[3.28,-145],[3.2,-170],[3.12,-190],[3.05,-202],[3.0,-210],[2.96,-220],[2.93,-228],[2.9,-215],[2.87,-170],[2.83,-110],[2.78,-70],[2.7,-52],[2.6,-44],[2.5,-41]]
];

// ---------------- DRAWING ----------------
const FONT = "Arial, 'Liberation Sans', Helvetica, sans-serif";
const svg = d3.select("body").append("svg")
  .attr("width", 911).attr("height", 1084)
  .style("background", "#fff")
  .attr("font-family", FONT);
svg.append("rect").attr("width", 911).attr("height", 1084).attr("fill", "#fff");
const defs = svg.append("defs");

function drawPanel(p) {
  const x = d3.scaleLinear().domain(p.xDomain).range(p.xRange);
  const y = d3.scaleLinear().domain(p.yDomain).range(p.yRange);
  const g = svg.append("g");
  const left = p.xRange[0], right = p.xRange[1], top = p.yRange[1], bottom = p.yRange[0];
  defs.append("clipPath").attr("id", "clip-" + p.key)
    .append("rect").attr("x", left).attr("y", top).attr("width", right - left).attr("height", bottom - top);

  const line = d3.line().x(d => x(d[0])).y(d => y(d[1])).curve(p.curve);
  const cg = g.append("g").attr("clip-path", `url(#clip-${p.key})`);
  p.cycles.forEach((c, i) => {
    [p.setA[i], p.setB[i]].forEach(pts => {
      cg.append("path").attr("d", line(pts)).attr("fill", "none")
        .attr("stroke", p.colors[i]).attr("stroke-width", p.lw)
        .attr("stroke-linejoin", "round").attr("stroke-linecap", "round");
    });
  });

  if (p.box) {
    g.append("rect")
      .attr("x", x(p.box.x0)).attr("y", y(p.box.y1))
      .attr("width", x(p.box.x1) - x(p.box.x0)).attr("height", y(p.box.y0) - y(p.box.y1))
      .attr("fill", "none").attr("stroke", "#111").attr("stroke-width", p.box.sw)
      .attr("stroke-dasharray", p.box.dash);
  }

  g.append("rect").attr("x", left).attr("y", top).attr("width", right - left).attr("height", bottom - top)
    .attr("fill", "none").attr("stroke", "#000").attr("stroke-width", 2.6);

  const styleAxis = (sel) => {
    sel.select(".domain").remove();
    sel.selectAll("line").attr("stroke", "#000").attr("stroke-width", 2);
    sel.selectAll("text").attr("font-family", FONT).attr("font-weight", "bold")
      .attr("font-size", 16).attr("fill", "#111");
  };
  g.append("g").attr("transform", `translate(0,${bottom})`)
    .call(d3.axisBottom(x).tickValues(p.xMinor).tickSize(3.5).tickFormat(""))
    .call(styleAxis);
  g.append("g").attr("transform", `translate(0,${bottom})`)
    .call(d3.axisBottom(x).tickValues(p.xMajor).tickSize(6).tickPadding(6.5).tickFormat(p.xFmt))
    .call(styleAxis);
  g.append("g").attr("transform", `translate(${left},0)`)
    .call(d3.axisLeft(y).tickValues(p.yMinor).tickSize(3.5).tickFormat(""))
    .call(styleAxis);
  g.append("g").attr("transform", `translate(${left},0)`)
    .call(d3.axisLeft(y).tickValues(p.yMajor).tickSize(6).tickPadding(3.5).tickFormat(p.yFmt))
    .call(styleAxis);

  svg.append("text").attr("x", p.letterX).attr("y", p.letterY).text(p.letter)
    .attr("font-size", 29).attr("font-weight", "bold").attr("fill", "#000");
  svg.append("text").attr("x", p.nameX).attr("y", p.nameY).text(p.name)
    .attr("font-size", 23).attr("font-weight", "bold").attr("fill", "#111");

  const xt = svg.append("text").attr("x", p.xTitleX).attr("y", p.xTitleY)
    .attr("text-anchor", "middle").attr("font-size", 17).attr("font-weight", "bold").attr("fill", "#111");
  if (p.xTitleSup) {
    xt.append("tspan").text(p.xTitle[0]);
    xt.append("tspan").text(p.xTitle[1]).attr("font-size", 11).attr("dy", -7);
    xt.append("tspan").text(p.xTitle[2]).attr("dy", 7);
  } else {
    xt.text(p.xTitle[0]);
  }
  const yt = svg.append("text")
    .attr("transform", `translate(${p.yTitleX},${p.yTitleY}) rotate(-90)`)
    .attr("text-anchor", "middle").attr("font-size", 17).attr("font-weight", "bold").attr("fill", "#111");
  if (p.yTitleSup) {
    yt.append("tspan").text(p.yTitle[0]);
    yt.append("tspan").text(p.yTitle[1]).attr("font-size", 11).attr("dy", -7);
    yt.append("tspan").text(p.yTitle[2]).attr("dy", 7);
  } else {
    yt.text(p.yTitle[0]);
  }

  const L = p.legend;
  p.cycles.forEach((c, i) => {
    const col = L.cols === 2 ? i % 2 : 0;
    const row = L.cols === 2 ? Math.floor(i / 2) : i;
    const lx0 = L.lineX0[col], lx1 = L.lineX1[col], tx = L.textX[col];
    const ly = L.y0 + row * L.dy;
    svg.append("line").attr("x1", lx0).attr("x2", lx1).attr("y1", ly).attr("y2", ly)
      .attr("stroke", p.colors[i]).attr("stroke-width", 3.2);
    svg.append("text").attr("x", tx).attr("y", ly + L.fs * 0.36).text(c)
      .attr("font-size", L.fs).attr("font-weight", "bold").attr("fill", "#111");
  });

  if (p.notes) {
    p.notes.forEach(n => svg.append("text").attr("x", n.x).attr("y", n.y).text(n.t)
      .attr("font-size", 18).attr("font-weight", "bold").attr("fill", "#111"));
  }
}

const capMinor = [25,75,125,175,225,275,325];
const voltMinorLeft = [2.25,2.75,3.25,3.75,4.25,4.75];
const voltMinorRight = [2.75,3.25,3.75,4.25,4.75];
const dqMinor = [-300,-100,100,300];
const f1 = d3.format(".1f");
const fInt = d3.format("d");
const fDq = v => String(v);

const leftBase = (key, letter, name, yr, chg, dis, colors, extra) => Object.assign({
  key, letter, name, cycles: cyclesLeft, colors, setA: chg, setB: dis, lw: 2.6,
  xDomain: [0, 354], xRange: [72.7, 455], yDomain: [1.8, 5.0], yRange: yr,
  xMajor: capTicks, xMinor: capMinor, yMajor: voltTicksLeft, yMinor: voltMinorLeft,
  xFmt: fInt, yFmt: f1, curve: d3.curveCatmullRom.alpha(0.5),
  xTitle: ["Capacity (mA h g", "-1", ")"], xTitleSup: true, xTitleX: 264,
  yTitle: ["Voltage (V)"], yTitleSup: false, yTitleX: 32,
  letterX: 12
}, extra);

const rightBase = (key, letter, name, yr, pos, neg, colors, extra) => Object.assign({
  key, letter, name, cycles: cyclesRight, colors, setA: pos, setB: neg, lw: 2.5,
  xDomain: [2.5, 4.8], xRange: [531.7, 919], yDomain: [-500, 500], yRange: yr,
  xMajor: voltTicksRight, xMinor: voltMinorRight, yMajor: dqTicks, yMinor: dqMinor,
  xFmt: f1, yFmt: fDq, curve: d3.curveLinear,
  xTitle: ["Voltage (V)"], xTitleSup: false, xTitleX: 733,
  yTitle: ["Differential capacity (dQ dV", "-1", ")"], yTitleSup: true, yTitleX: 484,
  letterX: 467
}, extra);

drawPanel(leftBase("a", "a", "LLFNMO", [314, 31], chargeA, dischargeA, colorsA, {
  letterY: 32, nameX: 343, nameY: 118, xTitleY: 359, yTitleY: 162,
  legend: { cols: 1, lineX0: [373], lineX1: [413], textX: [416.5], y0: 180.7, dy: 20.17, fs: 15 }
}));
drawPanel(rightBase("b", "b", "LLFNMO", [315, 30], posB, negB, colorsB, {
  letterY: 32, nameX: 544, nameY: 63, xTitleY: 359, yTitleY: 172.5,
  box: { x0: 2.738, x1: 3.039, y0: -224, y1: 0, dash: "5,3.5", sw: 1.8 },
  notes: [{ x: 542.5, y: 262.5, t: "Formation of" }, { x: 542.5, y: 285, t: "spinel phase" }],
  legend: { cols: 2, lineX0: [778, 848.5], lineX1: [811.5, 880.5], textX: [815, 883.3], y0: 238.3, dy: 17.5, fs: 13 }
}));
drawPanel(leftBase("c", "c", "AFCL", [674, 390], chargeC, dischargeC, colorsC, {
  letterY: 390, nameX: 362.5, nameY: 476.5, xTitleY: 719, yTitleY: 521,
  box: { x0: 142, x1: 234, y0: 2.665, y1: 3.0, dash: "2,2", sw: 1.5 },
  legend: { cols: 1, lineX0: [375.5], lineX1: [413.5], textX: [416.5], y0: 539, dy: 20.05, fs: 15 }
}));
drawPanel(rightBase("d", "d", "AFCL", [678, 392], posD, negD, colorsD, {
  letterY: 393, nameX: 543, nameY: 425, xTitleY: 721, yTitleY: 536,
  box: { x0: 2.744, x1: 3.484, y0: -350, y1: 364, dash: "2,2", sw: 1.5 },
  notes: [{ x: 555, y: 657.5, t: "the merging process" }],
  legend: { cols: 2, lineX0: [780, 851], lineX1: [813.3, 882.5], textX: [816.7, 884.5], y0: 595, dy: 17.3, fs: 13 }
}));
drawPanel(leftBase("e", "e", "AOCL", [1035.5, 752.3], chargeE, dischargeE, colorsE, {
  letterY: 752, nameX: 355, nameY: 840, xTitleY: 1079.5, yTitleY: 882,
  legend: { cols: 1, lineX0: [376.7], lineX1: [415], textX: [417.7], y0: 903.3, dy: 20.1, fs: 15 }
}));
drawPanel(rightBase("f", "f", "AOCL", [1038, 751.3], posF, negF, colorsF, {
  letterY: 753, nameX: 546, nameY: 784.3, xTitleY: 1080.5, yTitleY: 893,
  legend: { cols: 2, lineX0: [773.3, 848.3], lineX1: [808.3, 880.5], textX: [810.7, 883.3], y0: 957.7, dy: 17.25, fs: 13 }
}));
</script>
</body></html>
